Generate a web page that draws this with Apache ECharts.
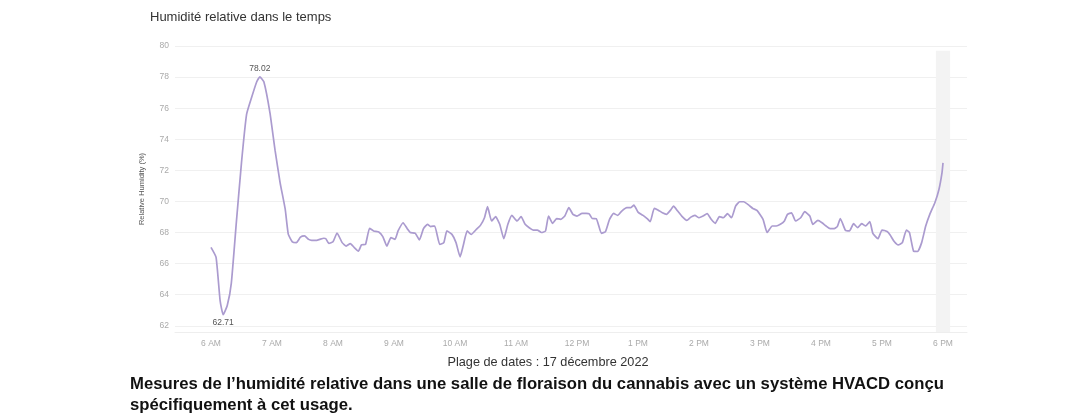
<!DOCTYPE html>
<html>
<head>
<meta charset="utf-8">
<script src="https://cdn.jsdelivr.net/npm/echarts@6/dist/echarts.min.js"></script>
<style>
html,body{margin:0;padding:0;background:#fff;}
#chart{width:1080px;height:420px;}
</style>
</head>
<body>
<div id="chart"></div>
<script>
// minutes after 6:00 AM
var minutes = [0,5,9,12,16,20,25,30,35,40,45,48,52,58,63,68,
73,76,80,84,88,92,96,99,104,107,111,113,116,120,124,129,133,137,141,145,148,152,156,160,165,169,173,177,181,184,189,193,196,201,205,209,213,216,220,
225,229,232,237,241,245,248,252,256,261,265,269,272,276,280,284,288,292,296,301,305,309,313,317,321,325,329,332,336,340,344,348,352,356,360,365,369,372,375,379,
384,388,392,396,400,404,409,413,416,420,425,429,432,436,440,444,448,452,455,459,463,468,472,476,480,484,488,492,496,500,504,508,512,516,520,524,529,533,537,
543,547,552,556,560,564,567,571,575,580,584,589,592,597,601,605,609,613,616,619,624,628,632,636,640,644,648,651,656,660,665,668,672,676,680,684,687,691,695,699,703,707,712,716,719,720];
var humidity = [67.04,66.4,63.6,62.71,63.3,64.75,68.7,72.5,75.6,76.7,77.7,78.02,77.7,75.7,73.3,71.2,
69.5,67.9,67.4,67.35,67.7,67.78,67.56,67.5,67.5,67.56,67.63,67.6,67.3,67.4,67.97,67.35,67.13,67.29,67.03,66.8,67.2,67.24,68.27,68.1,68.03,67.74,67.13,67.67,67.56,68.1,68.63,68.25,68.0,67.95,67.52,68.25,68.53,68.38,68.42,
67.24,67.35,68.1,67.88,67.35,66.43,67.13,68.1,67.88,68.2,68.46,68.95,69.66,68.74,69.02,68.53,67.6,68.53,69.1,68.74,69.02,68.53,68.31,68.16,68.16,68.0,68.1,69.06,68.59,68.9,68.85,69.06,69.6,69.17,69.06,69.23,69.23,69.2,68.9,68.89,
67.95,68.06,68.85,69.23,69.1,69.38,69.6,69.6,69.76,69.31,69.1,68.89,68.7,69.55,69.44,69.27,69.17,69.44,69.7,69.38,69.06,68.78,68.99,69.1,68.95,69.06,69.21,68.85,68.59,69.02,68.95,69.21,68.95,69.7,69.98,69.98,69.76,69.55,69.42,
68.85,68.0,68.42,68.42,68.53,68.74,69.17,69.27,68.74,68.95,69.34,69.06,68.53,68.78,68.63,68.42,68.25,68.25,68.38,68.9,68.14,68.1,68.57,68.31,68.57,68.42,68.7,67.95,67.6,68.16,68.06,67.84,67.42,67.2,67.35,68.16,68.0,66.81,66.78,67.35,68.42,69.17,69.92,70.77,71.84,72.48];
var hourLabels = ['6 AM','7 AM','8 AM','9 AM','10 AM','11 AM','12 PM','1 PM','2 PM','3 PM','4 PM','5 PM','6 PM'];
var highlightRange = [713, 727];

var titleText = 'Humidité relative dans le temps';
var subtitleText = 'Plage de dates : 17 décembre 2022';
var captionText = 'Mesures de l\u2019humidité relative dans une salle de floraison du cannabis avec un système HVACD conçu\nspécifiquement à cet usage.';

var seriesData = minutes.map(function (m, i) { return [m, humidity[i]]; });

var chart = echarts.init(document.getElementById('chart'));
chart.setOption({
  animation: false,
  backgroundColor: '#fff',
  title: {
    text: titleText,
    left: 145, top: 6,
    textStyle: { fontFamily: 'Liberation Sans', fontSize: 13, fontWeight: 'normal', color: '#333' }
  },
  grid: { left: 175, right: 113, top: 46, bottom: 88 },
  xAxis: {
    type: 'value',
    min: -35.4, max: 743.6,
    minInterval: 60, maxInterval: 60,
    axisLine: { show: true, lineStyle: { color: '#eeeeee' } },
    axisTick: { show: false },
    splitLine: { show: false },
    axisLabel: {
      showMinLabel: false, showMaxLabel: false,
      margin: 7,
      color: '#aaaaaa', fontSize: 8.5, fontFamily: 'Liberation Sans',
      formatter: function (v) {
        var idx = Math.round(v / 60);
        if (Math.abs(v - idx * 60) > 0.01) return '';
        return hourLabels[idx] || '';
      }
    }
  },
  yAxis: {
    type: 'value',
    min: 61.6, max: 80,
    splitNumber: 9, minInterval: 2, maxInterval: 2,
    name: 'Relative Humidity (%)',
    nameLocation: 'middle', nameGap: 29,
    nameTextStyle: { fontFamily: 'Liberation Sans', fontSize: 7.5, color: '#555' },
    axisLine: { show: false },
    axisTick: { show: false },
    axisLabel: { showMinLabel: false, margin: 6, color: '#aaaaaa', fontSize: 8.5, fontFamily: 'Liberation Sans' },
    splitLine: { lineStyle: { color: '#f0f0f0', width: 1 } }
  },
  series: [{
    type: 'line',
    data: seriesData,
    showSymbol: false,
    symbol: 'none',
    smooth: 0.15,
    lineStyle: { color: '#ab9bcf', width: 1.7 },
    markPoint: {
      symbol: 'circle', symbolSize: 1,
      itemStyle: { color: 'rgba(0,0,0,0)' },
      data: [
        { type: 'max', label: { position: 'top', distance: 3 } },
        { type: 'min', label: { position: 'bottom', distance: 3 } }
      ],
      label: {
        show: true, color: '#555', fontSize: 8.5, fontFamily: 'Liberation Sans',
        formatter: function (p) { return p.value.toFixed(2); }
      }
    },
    markArea: {
      silent: true,
      itemStyle: { color: '#f3f3f3' },
      data: [[{ xAxis: highlightRange[0], yAxis: 79.7 }, { xAxis: highlightRange[1], yAxis: 61.6 }]]
    }
  }],
  graphic: [
    {
      type: 'text',
      style: {
        text: subtitleText,
        x: 548, y: 362, textAlign: 'center', textVerticalAlign: 'middle',
        font: '12.7px "Liberation Sans"', fill: '#333'
      }
    },
    {
      type: 'text',
      style: {
        text: captionText,
        x: 130, y: 374, textAlign: 'left', textVerticalAlign: 'top',
        lineHeight: 21,
        font: 'bold 16.7px "Liberation Sans"', fill: '#111'
      }
    }
  ]
});
</script>
</body>
</html>
